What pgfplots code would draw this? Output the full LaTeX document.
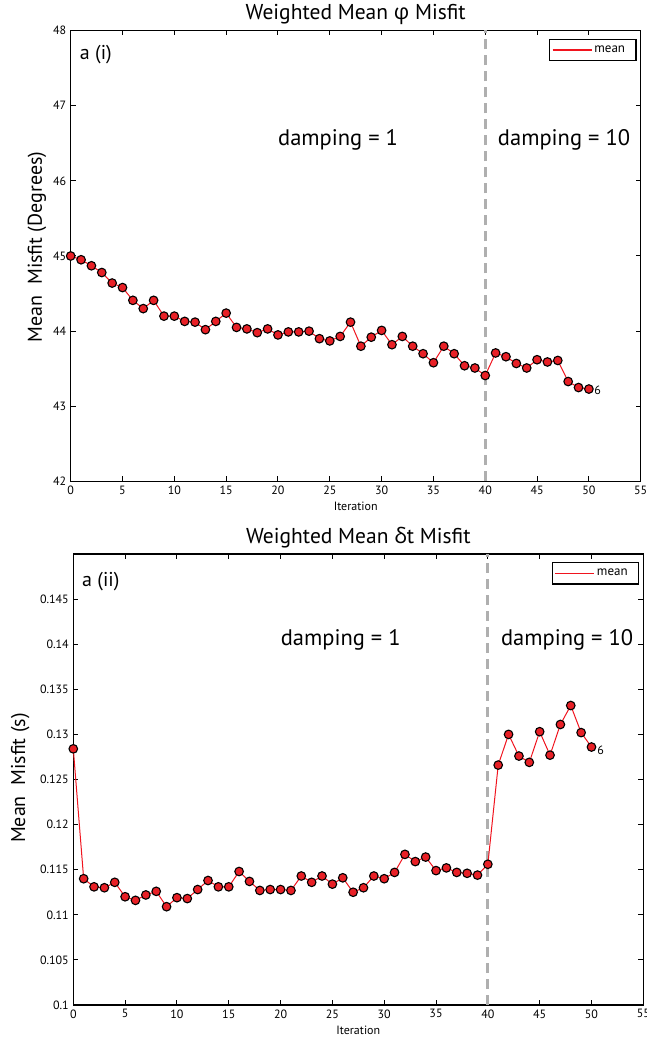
\documentclass[border=0pt]{standalone}
\usepackage{pgfplots}
\pgfplotsset{compat=1.18}
\usepackage{pgfplotstable}
\usepackage{fontspec}
\setmainfont{PT Sans}
\newfontfamily\grk{Open Sans}
\definecolor{markred}{RGB}{232,32,38}
\definecolor{linered}{RGB}{240,20,30}
\definecolor{dashgray}{RGB}{175,175,175}

\pgfplotstableread{
x y
0 45.00
1 44.95
2 44.87
3 44.78
4 44.64
5 44.58
6 44.41
7 44.30
8 44.41
9 44.20
10 44.20
11 44.13
12 44.12
13 44.02
14 44.13
15 44.24
16 44.05
17 44.03
18 43.98
19 44.03
20 43.95
21 43.99
22 43.99
23 44.00
24 43.90
25 43.87
26 43.93
27 44.12
28 43.80
29 43.92
30 44.01
31 43.82
32 43.93
33 43.80
34 43.70
35 43.58
36 43.80
37 43.70
38 43.54
39 43.51
40 43.41
41 43.71
42 43.66
43 43.57
44 43.51
45 43.62
46 43.59
47 43.61
48 43.33
49 43.25
50 43.23
}\phidata

\pgfplotstableread{
x y
0 0.1284
1 0.1140
2 0.1131
3 0.1130
4 0.1136
5 0.1120
6 0.1116
7 0.1122
8 0.1126
9 0.1109
10 0.1119
11 0.1118
12 0.1128
13 0.1138
14 0.1131
15 0.1131
16 0.1148
17 0.1137
18 0.1127
19 0.1128
20 0.1128
21 0.1127
22 0.1143
23 0.1136
24 0.1143
25 0.1134
26 0.1141
27 0.1125
28 0.1130
29 0.1143
30 0.1140
31 0.1147
32 0.1167
33 0.1159
34 0.1164
35 0.1149
36 0.1152
37 0.1147
38 0.1146
39 0.1144
40 0.1156
41 0.1266
42 0.1300
43 0.1276
44 0.1269
45 0.1303
46 0.1277
47 0.1311
48 0.1332
49 0.1302
50 0.1286
}\dtdata

\pgfplotsset{
  mystyle/.style={
    scale only axis,
    width=570pt,
    height=451pt,
    anchor=south west,
    xmin=0, xmax=55,
    xtick={0,5,...,55},
    tick align=inside,
    major tick length=5pt,
    axis line style={line width=1.5pt},
    tick style={line width=1pt, black},
    /pgf/number format/assume math mode=true,
    tick label style={font=\fontsize{12}{14}\selectfont},
    xticklabel style={yshift=-1pt},
    yticklabel style={xshift=-1pt},
    xlabel={Iteration},
    xlabel style={font=\fontsize{12}{14}\selectfont, at={(axis description cs:0.5,0)}, anchor=north, yshift=-17pt},
    ylabel style={font=\fontsize{20}{22}\selectfont, rotate=0, anchor=center},
    title style={font=\fontsize{21.5}{24}\selectfont, at={(axis description cs:0.5,1)}, anchor=base, yshift=4.5pt},
    legend style={draw=black, line width=1.3pt, font=\fontsize{13}{15}\selectfont,
      inner xsep=2pt, inner ysep=4.5pt, row sep=0pt,
      cells={anchor=west},
      at={(axis description cs:0.993,0.982)}, anchor=north east},
    legend image code/.code={\draw[linered, line width=1.5pt] (4pt,0pt) -- (43pt,0pt);},
    clip=false,
  },
  datastyle/.style={color=linered, line width=1pt, mark=*, mark size=4.3pt,
    mark options={fill=markred, draw=black, line width=1.1pt}},
}

\begin{document}
\begin{tikzpicture}[x=1pt,y=1pt]
\useasboundingbox (0,0) rectangle (646,1038);

% ---------- top panel ----------
\begin{axis}[mystyle,
  at={(70.7pt,556.5pt)},
  ymin=42, ymax=48,
  ytick={42,43,...,48},
  title={Weighted Mean {\grk φ} Misfit},
  ylabel={Mean\ \ Misfit (Degrees)},
  ylabel style={at={(axis description cs:-0.059,0.52)}},
]
\addplot[dashgray, line width=3pt, dash pattern=on 10pt off 6pt, forget plot] coordinates {(40,42) (40,48)};
\addplot[datastyle] table[x=x,y=y] {\phidata};
\addlegendentry{mean\hspace*{7pt}}
\node[anchor=west, font=\fontsize{20}{22}\selectfont, inner sep=0pt] at (axis cs:0.87,47.68) {a (i)};
\node[font=\fontsize{22.5}{26}\selectfont, inner sep=0pt] at (axis cs:25.8,46.55) {damping = 1};
\node[font=\fontsize{22.5}{26}\selectfont, inner sep=0pt] at (axis cs:47.6,46.55) {damping = 10};
\node[anchor=west, font=\fontsize{12}{14}\selectfont, inner sep=0pt] at (axis cs:50.5,43.21) {6};
\end{axis}

% ---------- bottom panel ----------
\begin{axis}[mystyle,
  at={(73.3pt,33pt)},
  ymin=0.1, ymax=0.15,
  ytick={0.1,0.105,0.11,0.115,0.12,0.125,0.13,0.135,0.14,0.145},
  yticklabel style={/pgf/number format/fixed, /pgf/number format/precision=3},
  title={Weighted Mean {\grk δ}t Misfit},
  ylabel={Mean\ \ Misfit (s)},
  ylabel style={at={(axis description cs:-0.093,0.503)}},
]
\addplot[dashgray, line width=3pt, dash pattern=on 10pt off 6pt, forget plot] coordinates {(40,0.1) (40,0.15)};
\addplot[datastyle] table[x=x,y=y] {\dtdata};
\addlegendentry{mean\hspace*{7pt}}
\node[anchor=west, font=\fontsize{20}{22}\selectfont, inner sep=0pt] at (axis cs:0.84,0.1469) {a (ii)};
\node[font=\fontsize{22.5}{26}\selectfont, inner sep=0pt] at (axis cs:25.8,0.1405) {damping = 1};
\node[font=\fontsize{22.5}{26}\selectfont, inner sep=0pt] at (axis cs:47.65,0.1405) {damping = 10};
\node[anchor=west, font=\fontsize{12}{14}\selectfont, inner sep=0pt] at (axis cs:50.55,0.1282) {6};
\end{axis}
\end{tikzpicture}
\end{document}
